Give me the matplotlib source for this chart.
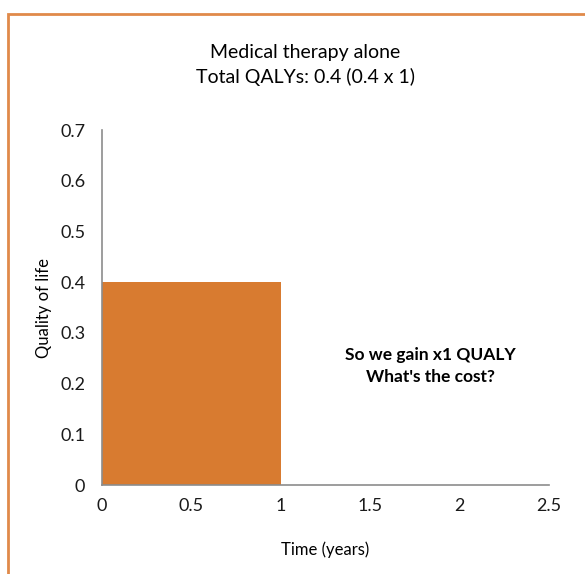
import matplotlib.pyplot as plt
from matplotlib.patches import Rectangle

# Data
start_years = [0.0]
durations = [1.0]
quality = [0.4]
x_ticks = [0, 0.5, 1, 1.5, 2, 2.5]
x_labels = ["0", "0.5", "1", "1.5", "2", "2.5"]
y_ticks = [0, 0.1, 0.2, 0.3, 0.4, 0.5, 0.6, 0.7]
y_labels = ["0", "0.1", "0.2", "0.3", "0.4", "0.5", "0.6", "0.7"]

BAR = "#D87B30"
BORDER = "#E08A4A"
AXIS = "#8C8C8C"

plt.rcParams["font.family"] = ["Lato", "DejaVu Sans"]

fig = plt.figure(figsize=(5.85, 5.74), dpi=100)
ax = fig.add_axes([0.1744, 0.155, 0.7641, 0.6185])

ax.bar(start_years, quality, width=durations, align="edge", color=BAR,
       edgecolor="none", zorder=2)

ax.set_xlim(0, 2.5)
ax.set_ylim(0, 0.7)
ax.set_xticks(x_ticks, x_labels)
ax.set_yticks(y_ticks, y_labels)
ax.tick_params(length=0, labelsize=13, colors="#1a1a1a")
ax.tick_params(axis="x", pad=9)
ax.tick_params(axis="y", pad=12)

for side in ("top", "right"):
    ax.spines[side].set_visible(False)
for side in ("left", "bottom"):
    ax.spines[side].set_color(AXIS)
    ax.spines[side].set_linewidth(1.2)

ax.set_xlabel("Time (years)", fontsize=12, labelpad=20)
ax.set_ylabel("Quality of life", fontsize=12, labelpad=6)

fig.text(0.522, 0.909, "Medical therapy alone", ha="center", va="center",
         fontsize=14)
fig.text(0.522, 0.866, "Total QALYs: 0.4 (0.4 x 1)", ha="center",
         va="center", fontsize=14)

ax.text(0.735, 0.363, "So we gain x1 QUALY\nWhat's the cost?",
        transform=fig.transFigure, ha="center", va="center",
        fontsize=12.5, fontweight="bold", linespacing=1.45)

# orange frame around the slide (top and left edges visible)
fig.add_artist(Rectangle((0.013, -0.05), 1.2, 1.0256,
                         transform=fig.transFigure, fill=False,
                         edgecolor=BORDER, linewidth=2))

fig.savefig("out.png", dpi=100)
